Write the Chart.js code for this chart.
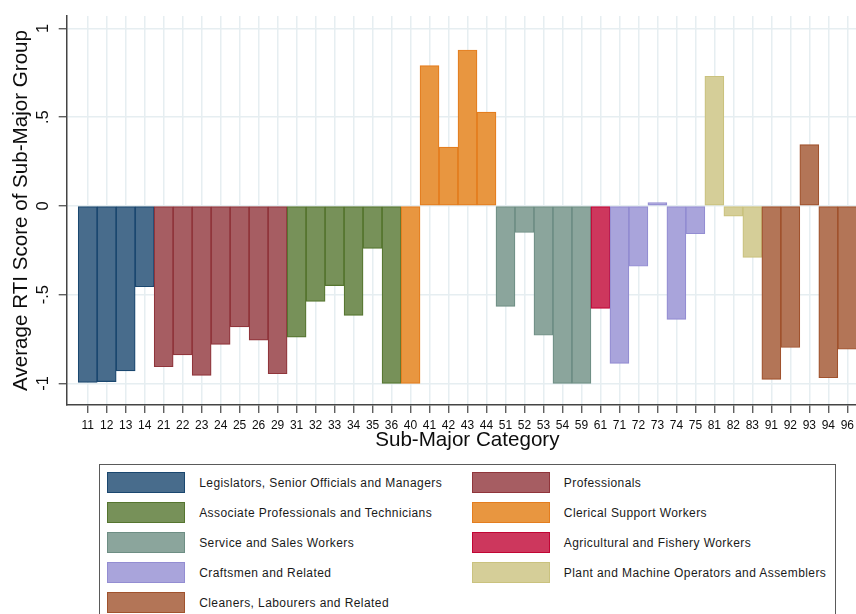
<!DOCTYPE html>
<html>
<head>
<meta charset="utf-8">
<script src="https://cdn.jsdelivr.net/npm/chart.js@4.4.0/dist/chart.umd.min.js"></script>
<style>
  html, body { margin: 0; padding: 0; background: #fff; overflow: hidden; width: 856px; height: 614px; }
  #wrap { position: absolute; left: 0; top: 0; width: 870px; height: 460px; }
  #legend {
    position: absolute; left: 99px; top: 464px; width: 737px; height: 170px;
    border: 1.5px solid #5a5a5a; box-sizing: border-box;
    font-family: "Liberation Sans", Arial, sans-serif; font-size: 12px; letter-spacing: 0.42px; color: #1a1a1a;
  }
  .item { position: absolute; height: 22px; }
  .sw { position: absolute; left: 0; top: 0; width: 78px; height: 21px; box-sizing: border-box; border: 1.2px solid; }
  .lbl { position: absolute; left: 92px; top: 0; line-height: 23px; white-space: nowrap; }
</style>
</head>
<body>
<div id="wrap"><canvas id="c" width="870" height="460"></canvas></div>
<div id="legend"></div>
<script>
// ISCO sub-major group codes and their average RTI scores
const categories = ['11','12','13','14','21','22','23','24','25','26','29',
  '31','32','33','34','35','36','40','41','42','43','44',
  '51','52','53','54','59','61','71','72','73','74','75',
  '81','82','83','91','92','93','94','96'];
const rtiScores = [-0.995, -0.99, -0.93, -0.455, -0.906, -0.84, -0.955, -0.78, -0.682, -0.757, -0.946,
  -0.74, -0.538, -0.449, -0.617, -0.239, -1.0, -1.0, 0.791, 0.331, 0.879, 0.529,
  -0.566, -0.15, -0.729, -1.0, -1.0, -0.578, -0.888, -0.34, 0.019, -0.639, -0.157,
  0.731, -0.058, -0.29, -0.978, -0.798, 0.346, -0.968, -0.808];

// Major groups (first digit of the code)
const groupNames = ['Legislators, Senior Officials and Managers', 'Professionals',
  'Associate Professionals and Technicians', 'Clerical Support Workers',
  'Service and Sales Workers', 'Agricultural and Fishery Workers',
  'Craftsmen and Related', 'Plant and Machine Operators and Assemblers',
  'Cleaners, Labourers and Related'];
const groupFill = ['rgb(72,108,140)', 'rgb(166,93,98)', 'rgb(119,145,89)', 'rgb(232,150,64)',
  'rgb(139,165,156)', 'rgb(205,55,93)', 'rgb(169,164,219)', 'rgb(213,206,152)', 'rgb(179,117,87)'];
const groupLine = ['rgb(26,71,111)', 'rgb(144,53,59)', 'rgb(85,117,47)', 'rgb(228,125,30)',
  'rgb(110,142,132)', 'rgb(193,5,52)', 'rgb(147,141,210)', 'rgb(202,194,126)', 'rgb(160,82,45)'];

const yTickValues = [-1, -0.5, 0, 0.5, 1];
const yTickLabels = ['-1', '-.5', '0', '.5', '1'];

const groupOf = code => Number(code.charAt(0)) - 1;

const gridColor = '#e6eef1';
const axisColor = '#444';
const textColor = '#0d0d0d';
const fontFamily = '"Liberation Sans", Arial, sans-serif';

new Chart(document.getElementById('c'), {
  type: 'bar',
  data: {
    datasets: [{
      data: rtiScores.map((v, i) => ({ x: i, y: v })),
      backgroundColor: categories.map(c => groupFill[groupOf(c)]),
      borderColor: categories.map(c => groupLine[groupOf(c)]),
      borderWidth: 1.2,
      borderSkipped: false,
      barPercentage: 1,
      categoryPercentage: 1
    }]
  },
  options: {
    responsive: false,
    animation: false,
    layout: { padding: { top: 14, right: 2, left: 0, bottom: 0 } },
    plugins: { legend: { display: false }, tooltip: { enabled: false } },
    scales: {
      x: {
        type: 'linear',
        min: -1.106,
        max: 41.09,
        offset: false,
        afterBuildTicks: s => { s.ticks = categories.map((c, i) => ({ value: i })); },
        afterFit: s => { s.height = 55; },
        grid: { color: gridColor, lineWidth: 1.5, offset: false, tickColor: axisColor, tickLength: 8, tickWidth: 1.2 },
        border: { color: axisColor, width: 1.5 },
        ticks: {
          autoSkip: false, maxRotation: 0, minRotation: 0, padding: 5, color: textColor,
          font: { family: fontFamily, size: 12 },
          callback: (v, i) => categories[i]
        },
        title: {
          display: true, text: 'Sub-Major Category', color: textColor,
          font: { family: fontFamily, size: 20.6 }, padding: { top: 0, bottom: 7.5 }
        }
      },
      y: {
        min: -1.122,
        max: 1.071,
        afterBuildTicks: s => { s.ticks = yTickValues.map(v => ({ value: v })); },
        afterFit: s => { s.width = 66.7; },
        grid: { color: gridColor, lineWidth: 1.5, tickColor: axisColor, tickLength: 8, tickWidth: 1.2 },
        border: { color: axisColor, width: 1.5 },
        ticks: {
          minRotation: 90, maxRotation: 90, crossAlign: 'center', padding: 6, color: textColor,
          font: { family: fontFamily, size: 16.5 },
          callback: (v, i) => yTickLabels[i]
        },
        title: {
          display: true, text: 'Average RTI Score of Sub-Major Group', color: textColor,
          font: { family: fontFamily, size: 20.6 }, padding: { top: 9, bottom: 0 }
        }
      }
    }
  }
});

// Two-column legend of the major groups
const legend = document.getElementById('legend');
groupNames.forEach((name, g) => {
  const item = document.createElement('div');
  item.className = 'item';
  item.style.left = (g % 2 === 0 ? 7.2 : 371.8) + 'px';
  item.style.top = (7.2 + Math.floor(g / 2) * 30) + 'px';
  const sw = document.createElement('div');
  sw.className = 'sw';
  sw.style.background = groupFill[g];
  sw.style.borderColor = groupLine[g];
  const lbl = document.createElement('div');
  lbl.className = 'lbl';
  lbl.textContent = name;
  item.appendChild(sw);
  item.appendChild(lbl);
  legend.appendChild(item);
});
</script>
</body>
</html>
